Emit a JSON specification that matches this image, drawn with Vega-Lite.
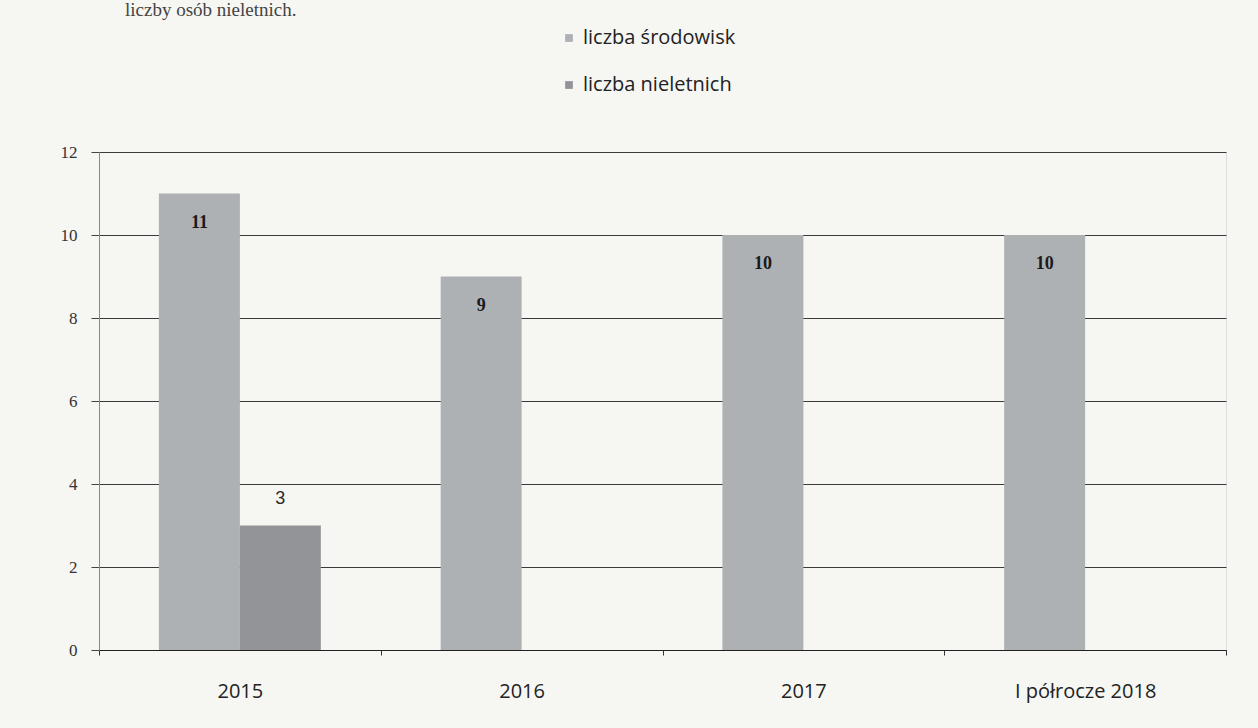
{
  "$schema": "https://vega.github.io/schema/vega-lite/v6.json",
  "width": 1127,
  "height": 498,
  "autosize": {"type": "none"},
  "padding": {"left": 99, "top": 152, "right": 32, "bottom": 78},
  "background": "#f6f6f3",
  "title": {
    "text": "liczby osób nieletnich.",
    "anchor": "start",
    "frame": "group",
    "dx": 26,
    "dy": 17,
    "offset": 10,
    "baseline": "alphabetic",
    "font": "Liberation Serif",
    "fontSize": 19,
    "fontWeight": "normal",
    "color": "#444444"
  },
  "data": {
    "values": [
      {"kategoria": "2015", "seria": "liczba środowisk", "wartosc": 11},
      {"kategoria": "2015", "seria": "liczba nieletnich", "wartosc": 3},
      {"kategoria": "2016", "seria": "liczba środowisk", "wartosc": 9},
      {"kategoria": "2017", "seria": "liczba środowisk", "wartosc": 10},
      {"kategoria": "I półrocze 2018", "seria": "liczba środowisk", "wartosc": 10}
    ]
  },
  "encoding": {
    "x": {
      "field": "kategoria",
      "type": "nominal",
      "sort": ["2015", "2016", "2017", "I półrocze 2018"],
      "scale": {"paddingInner": 0, "paddingOuter": 0},
      "axis": {
        "title": null,
        "labelAngle": 0,
        "tickBand": "extent",
        "tickSize": 5,
        "tickColor": "#333333",
        "domainColor": "#222222",
        "domainWidth": 1.2,
        "labelPadding": 26,
        "labelFont": "Open Sans",
        "labelFontSize": 20,
        "labelColor": "#222222",
        "grid": false
      }
    },
    "xOffset": {
      "field": "seria",
      "type": "nominal",
      "scale": {"domain": ["liczba środowisk", "liczba nieletnich"], "paddingInner": 0, "paddingOuter": 0.74}
    },
    "y": {
      "field": "wartosc",
      "type": "quantitative",
      "scale": {"domain": [0, 12]},
      "axis": {
        "title": null,
        "values": [0, 2, 4, 6, 8, 10, 12],
        "tickSize": 8,
        "tickColor": "#444444",
        "gridColor": "#3a3a3a",
        "gridWidth": 1.2,
        "domainColor": "#888888",
        "labelPadding": 14,
        "labelFont": "Liberation Serif",
        "labelFontSize": 17,
        "labelColor": "#333333"
      }
    }
  },
  "layer": [
    {
      "mark": {"type": "bar"},
      "encoding": {
        "color": {
          "field": "seria",
          "type": "nominal",
          "scale": {
            "domain": ["liczba środowisk", "liczba nieletnich"],
            "range": ["#adb1b4", "#929497"]
          },
          "legend": {
            "title": null,
            "orient": "none",
            "direction": "vertical",
            "legendX": 460,
            "legendY": -124,
            "symbolType": "square",
            "symbolSize": 60,
            "labelFont": "Open Sans",
            "labelFontSize": 20,
            "labelColor": "#222222",
            "rowPadding": 27,
            "labelOffset": 4
          }
        }
      }
    },
    {
      "transform": [{"filter": "datum.seria == 'liczba środowisk'"}],
      "mark": {
        "type": "text",
        "baseline": "middle",
        "dy": 29,
        "font": "Liberation Serif",
        "fontSize": 18,
        "fontWeight": "bold",
        "color": "#1a1a1a"
      },
      "encoding": {"text": {"field": "wartosc", "type": "quantitative"}}
    },
    {
      "transform": [{"filter": "datum.seria == 'liczba nieletnich'"}],
      "mark": {
        "type": "text",
        "baseline": "middle",
        "dy": -27,
        "font": "Liberation Sans",
        "fontSize": 18,
        "color": "#2a2a2a"
      },
      "encoding": {"text": {"field": "wartosc", "type": "quantitative"}}
    }
  ]
}
